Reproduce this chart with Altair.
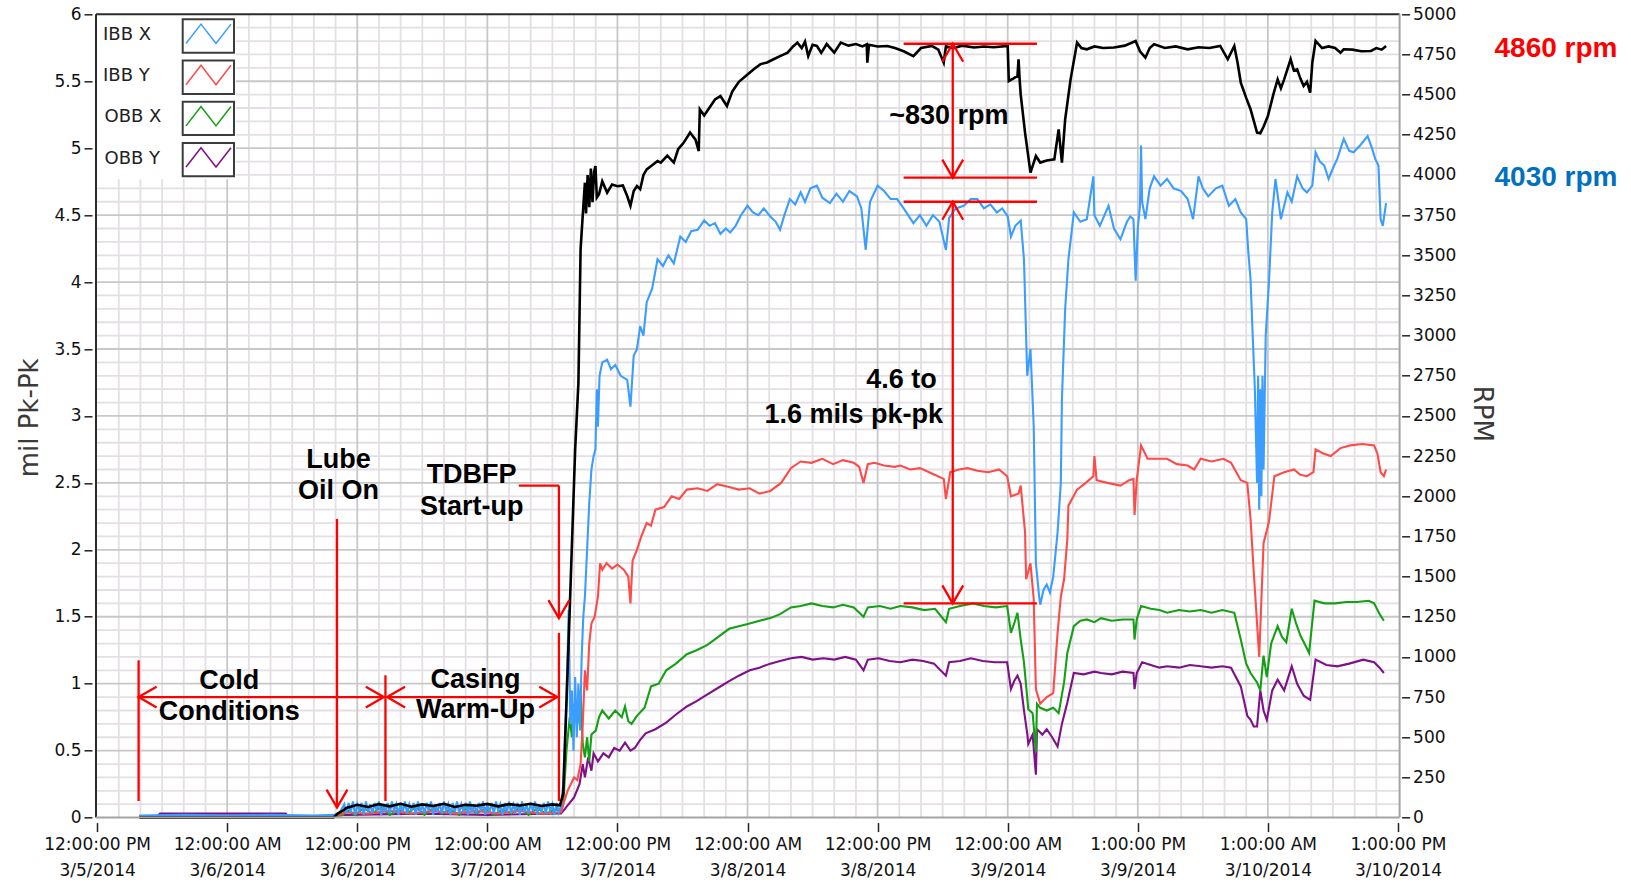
import json
import altair as alt
import pandas as pd

# ---------------- layout ----------------
W, H = 1303.6, 803.3
PAD = {"left": 96, "top": 14.3, "right": 231.4, "bottom": 66.4}
X_DOMAIN = [-0.1, 120.15]          # hours since 12:00 PM 3/5/2014

# ---------------- axes ----------------
X_TICKS = [0, 12, 24, 36, 48, 60, 72, 84, 96, 108, 120]
X_LABELS = [["12:00:00 PM", "3/5/2014"], ["12:00:00 AM", "3/6/2014"], ["12:00:00 PM", "3/6/2014"],
            ["12:00:00 AM", "3/7/2014"], ["12:00:00 PM", "3/7/2014"], ["12:00:00 AM", "3/8/2014"],
            ["12:00:00 PM", "3/8/2014"], ["12:00:00 AM", "3/9/2014"], ["1:00:00 PM", "3/9/2014"],
            ["1:00:00 AM", "3/10/2014"], ["1:00:00 PM", "3/10/2014"]]
MIL_TICKS = [0, 0.5, 1, 1.5, 2, 2.5, 3, 3.5, 4, 4.5, 5, 5.5, 6]
RPM_TICKS = [0, 250, 500, 750, 1000, 1250, 1500, 1750, 2000, 2250, 2500, 2750, 3000,
             3250, 3500, 3750, 4000, 4250, 4500, 4750, 5000]

SERIES = ["IBB X", "IBB Y", "OBB X", "OBB Y"]
COLORS = ["#3a9dff", "#ff4a4a", "#14a014", "#7e1088"]

# ---------------- data (hour, mil) ----------------
IBB_X = [(3.9, 0.015), (8.0, 0.02), (12.0, 0.015), (16.0, 0.02), (20.0, 0.015), (21.9, 0.02), (22.4, 0.04),
         (22.8, .10), (23.0, .03), (23.2, .11), (23.4, .04), (23.6, .12), (23.8, .02), (24.0, .10), (24.2, .05),
         (24.4, .11), (24.6, .02), (24.8, .12), (25.0, .04), (25.2, .10), (25.4, .03), (25.6, .11), (25.8, .05),
         (26.0, .12), (26.2, .02), (26.4, .10), (26.6, .04), (26.8, .11), (27.0, .03), (27.2, .12), (27.4, .05),
         (27.6, .10), (27.8, .02), (28.0, .11), (28.2, .04), (28.4, .12), (28.6, .03), (28.8, .10), (29.0, .05),
         (29.2, .11), (29.4, .02), (29.6, .12), (29.8, .04), (30.0, .10), (30.2, .03), (30.4, .11), (30.6, .05),
         (30.8, .12), (31.0, .02), (31.2, .10), (31.4, .04), (31.6, .11), (31.8, .03), (32.0, .12), (32.2, .05),
         (32.4, .10), (32.6, .02), (32.8, .11), (33.0, .04), (33.2, .12), (33.4, .03), (33.6, .10), (33.8, .05),
         (34.0, .11), (34.2, .02), (34.4, .12), (34.6, .04), (34.8, .10), (35.0, .03), (35.2, .11), (35.4, .05),
         (35.6, .12), (35.8, .02), (36.0, .10), (36.2, .04), (36.4, .11), (36.6, .03), (36.8, .12), (37.0, .05),
         (37.2, .10), (37.4, .02), (37.6, .11), (37.8, .04), (38.0, .12), (38.2, .03), (38.4, .10), (38.6, .05),
         (38.8, .11), (39.0, .02), (39.2, .12), (39.4, .04), (39.6, .10), (39.8, .03), (40.0, .11), (40.2, .05),
         (40.4, .12), (40.6, .02), (40.8, .10), (41.0, .04), (41.2, .11), (41.4, .03), (41.6, .12), (41.8, .05),
         (42.0, .10), (42.2, .02), (42.4, .11), (42.6, .04), (42.8, .09),
         (43.0, 0.25), (43.3, 0.9), (43.5, 1.55), (43.65, 0.7), (43.8, 0.95), (43.95, 0.5), (44.1, 1.05),
         (44.25, 0.6), (44.4, 1.0), (44.55, 0.65), (44.7, 1.2), (44.85, 1.5), (45.0, 1.65), (45.2, 2.0),
         (45.4, 2.35), (45.6, 2.6), (45.8, 2.7), (45.97, 2.75), (46.1, 3.2), (46.2, 2.92), (46.35, 3.3),
         (46.6, 3.4), (47.05, 3.42), (47.4, 3.35), (47.8, 3.38), (48.3, 3.3), (48.9, 3.27), (49.2, 3.07),
         (49.5, 3.45), (49.8, 3.5), (50.1, 3.67), (50.4, 3.6), (50.7, 3.85), (51.2, 3.95), (51.7, 4.17),
         (52.2, 4.12), (52.7, 4.2), (53.2, 4.14), (53.8, 4.34), (54.3, 4.3), (54.8, 4.38), (55.4, 4.39),
         (56.0, 4.46), (56.5, 4.42), (57.0, 4.44), (57.5, 4.36), (58.0, 4.4), (58.4, 4.37), (58.9, 4.42),
         (59.4, 4.5), (60.0, 4.57), (60.5, 4.52), (61.0, 4.5), (61.5, 4.55), (62.1, 4.49), (62.6, 4.45),
         (63.0, 4.39), (63.4, 4.5), (63.9, 4.62), (64.4, 4.58), (64.9, 4.67), (65.3, 4.6), (65.8, 4.7),
         (66.4, 4.72), (66.9, 4.63), (67.6, 4.59), (68.2, 4.66), (68.8, 4.6), (69.4, 4.68), (70.1, 4.64),
         (70.5, 4.55), (70.9, 4.24), (71.3, 4.6), (72.0, 4.72), (72.6, 4.68), (73.2, 4.62), (73.8, 4.62),
         (74.4, 4.55), (75.3, 4.44), (75.9, 4.5), (76.5, 4.42), (77.1, 4.5), (77.7, 4.45), (78.3, 4.24),
         (78.6, 4.48), (79.2, 4.55), (79.95, 4.57), (80.6, 4.62), (81.2, 4.62), (81.8, 4.55), (82.4, 4.58),
         (83.0, 4.52), (83.5, 4.55), (84.0, 4.49), (84.3, 4.34), (84.7, 4.42), (85.2, 4.46), (85.5, 4.17),
         (85.8, 3.3), (86.1, 3.5), (86.4, 2.92), (86.6, 1.9), (86.9, 1.65), (87.0, 1.59), (87.3, 1.7),
         (87.6, 1.74), (87.9, 1.68), (88.2, 1.8), (88.6, 2.13), (88.9, 2.5), (89.0, 3.12), (89.3, 3.8),
         (89.6, 4.17), (89.96, 4.42), (90.1, 4.52), (90.7, 4.45), (91.3, 4.47), (91.9, 4.79), (92.0, 4.5),
         (92.5, 4.42), (93.3, 4.57), (93.8, 4.4), (94.4, 4.32), (95.0, 4.45), (95.3, 4.49), (95.6, 4.47),
         (95.8, 4.01), (96.0, 4.4), (96.2, 4.57), (96.3, 5.02), (96.4, 4.6), (96.7, 4.47), (97.1, 4.7),
         (97.5, 4.79), (98.1, 4.72), (98.7, 4.77), (99.3, 4.7), (100.0, 4.68), (100.6, 4.62), (101.1, 4.47),
         (101.6, 4.79), (102.0, 4.7), (102.5, 4.64), (103.2, 4.7), (103.8, 4.72), (104.4, 4.57), (105.0, 4.62),
         (105.5, 4.52), (106.0, 4.47), (106.2, 4.22), (106.4, 4.02), (106.6, 3.6), (106.8, 3.2), (107.0, 2.5),
         (107.1, 3.3), (107.2, 2.3), (107.3, 3.2), (107.4, 2.4), (107.5, 3.3), (107.6, 2.6), (107.8, 3.6),
         (108.1, 4.0), (108.4, 4.52), (108.7, 4.77), (109.2, 4.47), (109.8, 4.67), (110.2, 4.6), (110.7, 4.79),
         (111.2, 4.7), (111.6, 4.67), (112.1, 4.72), (112.4, 4.97), (112.8, 4.9), (113.2, 4.87), (113.6, 4.77),
         (114.0, 4.85), (114.4, 4.92), (115.0, 5.07), (115.5, 4.98), (115.9, 4.97), (116.5, 5.02), (117.2, 5.09),
         (117.6, 5.0), (117.9, 4.92), (118.2, 4.87), (118.4, 4.47), (118.6, 4.42), (118.9, 4.59)]

IBB_Y = [(3.9, 0.01), (21.8, 0.01), (22.7, 0.03), (23.0, 0.04), (25.0, 0.03), (27.0, 0.05), (29.0, 0.03),
         (31.0, 0.05), (33.0, 0.03), (35.0, 0.05), (37.0, 0.03), (39.0, 0.05), (41.0, 0.03), (42.8, 0.04),
         (43.0, 0.1), (43.4, 0.2), (43.7, 0.25), (44.0, 0.3), (44.3, 0.28), (44.6, 0.4), (44.8, 0.7), (45.0, 1.1),
         (45.2, 0.95), (45.4, 1.3), (45.6, 1.45), (45.9, 1.5), (46.2, 1.65), (46.4, 1.9), (46.6, 1.85), (47.0, 1.9),
         (47.5, 1.86), (48.0, 1.89), (48.6, 1.85), (49.0, 1.8), (49.2, 1.6), (49.4, 1.92), (49.8, 2.0), (50.2, 2.1),
         (50.7, 2.2), (51.1, 2.18), (51.5, 2.3), (52.3, 2.32), (53.0, 2.4), (53.7, 2.38), (54.4, 2.45), (55.4, 2.46),
         (56.3, 2.44), (57.2, 2.49), (58.3, 2.47), (59.2, 2.45), (60.2, 2.46), (61.1, 2.42), (62.1, 2.44),
         (63.1, 2.5), (64.0, 2.61), (64.9, 2.66), (65.9, 2.65), (66.9, 2.68), (67.9, 2.64), (68.8, 2.67),
         (69.8, 2.65), (70.3, 2.62), (70.7, 2.5), (71.1, 2.64), (71.7, 2.65), (72.6, 2.63), (73.6, 2.62),
         (74.1, 2.63), (75.0, 2.6), (75.9, 2.61), (77.0, 2.57), (78.1, 2.53), (78.3, 2.38), (78.7, 2.58),
         (79.5, 2.6), (80.3, 2.61), (81.2, 2.59), (82.2, 2.58), (83.2, 2.6), (83.95, 2.55), (84.3, 2.4),
         (85.0, 2.42), (85.2, 2.48), (85.6, 2.13), (85.7, 1.78), (86.1, 1.9), (86.4, 1.63), (86.6, 0.96),
         (87.0, 0.85), (87.6, 0.9), (88.2, 0.93), (88.6, 1.38), (88.9, 1.65), (89.2, 1.78), (89.5, 2.08),
         (89.6, 2.33), (90.4, 2.45), (91.2, 2.5), (91.9, 2.55), (92.0, 2.7), (92.2, 2.52), (93.2, 2.5),
         (94.4, 2.48), (95.2, 2.52), (95.6, 2.53), (95.7, 2.26), (95.9, 2.52), (96.3, 2.78), (96.9, 2.68),
         (97.8, 2.68), (98.7, 2.68), (99.6, 2.64), (100.6, 2.63), (101.2, 2.6), (101.8, 2.68), (102.8, 2.66),
         (103.9, 2.68), (104.6, 2.65), (105.5, 2.52), (106.1, 2.5), (106.4, 2.23), (106.7, 1.83), (107.0, 1.45),
         (107.2, 1.2), (107.6, 2.05), (108.1, 2.21), (108.6, 2.55), (109.5, 2.58), (110.4, 2.6), (111.0, 2.56),
         (111.6, 2.55), (112.2, 2.58), (112.4, 2.75), (113.1, 2.72), (113.8, 2.7), (114.7, 2.76), (115.6, 2.78),
         (116.7, 2.79), (117.8, 2.78), (118.1, 2.72), (118.4, 2.58), (118.7, 2.55), (118.9, 2.6)]

OBB_X = [(3.9, 0.01), (21.8, 0.01), (22.7, 0.02), (23.0, 0.06), (23.8, 0.02), (24.6, 0.07), (25.4, 0.03),
         (26.2, 0.08), (27.0, 0.02), (27.8, 0.06), (28.6, 0.03), (29.4, 0.08), (30.2, 0.02), (31.0, 0.07),
         (31.8, 0.03), (32.6, 0.06), (33.4, 0.02), (34.2, 0.08), (35.0, 0.03), (35.8, 0.07), (36.6, 0.02),
         (37.4, 0.06), (38.2, 0.03), (39.0, 0.08), (39.8, 0.02), (40.6, 0.07), (41.4, 0.03), (42.2, 0.06),
         (42.8, 0.05), (43.0, 0.1), (43.3, 0.5), (43.6, 0.75), (43.8, 0.6), (44.0, 0.85), (44.3, 0.7),
         (44.6, 0.95), (44.8, 0.55), (45.0, 0.45), (45.2, 0.6), (45.4, 0.42), (45.6, 0.62), (46.0, 0.65),
         (46.3, 0.75), (46.6, 0.8), (47.2, 0.74), (47.8, 0.8), (48.4, 0.75), (48.7, 0.83), (49.0, 0.72),
         (49.3, 0.7), (49.8, 0.76), (50.5, 0.82), (51.1, 0.98), (51.8, 1.0), (52.5, 1.1), (53.4, 1.15),
         (54.4, 1.22), (55.3, 1.25), (56.3, 1.29), (57.3, 1.35), (58.3, 1.41), (59.2, 1.43), (60.2, 1.45),
         (61.1, 1.47), (62.1, 1.49), (63.0, 1.52), (64.0, 1.57), (64.9, 1.58), (65.9, 1.6), (66.9, 1.58),
         (67.9, 1.57), (68.8, 1.59), (69.8, 1.57), (70.7, 1.5), (71.1, 1.57), (72.2, 1.58), (73.2, 1.56),
         (74.1, 1.58), (75.2, 1.57), (76.3, 1.55), (77.3, 1.56), (78.3, 1.46), (78.6, 1.56), (79.6, 1.58),
         (80.8, 1.6), (81.8, 1.58), (82.9, 1.57), (83.95, 1.58), (84.3, 1.38), (84.6, 1.45), (84.9, 1.53),
         (85.2, 1.33), (85.5, 1.16), (85.9, 0.81), (86.3, 0.78), (86.6, 0.49), (86.7, 0.85), (87.0, 0.82),
         (87.6, 0.8), (88.2, 0.82), (88.7, 0.78), (89.2, 1.01), (89.5, 1.23), (90.1, 1.43), (90.7, 1.47),
         (91.3, 1.48), (92.0, 1.46), (92.6, 1.49), (93.6, 1.47), (94.6, 1.48), (95.6, 1.48), (95.7, 1.33),
         (95.9, 1.48), (96.3, 1.58), (97.2, 1.56), (98.0, 1.55), (98.7, 1.53), (99.8, 1.55), (100.8, 1.54),
         (101.8, 1.55), (102.8, 1.53), (103.8, 1.55), (104.9, 1.53), (105.5, 1.33), (106.0, 1.15), (106.4, 1.08),
         (107.0, 1.01), (107.3, 0.95), (107.6, 1.21), (107.9, 1.05), (108.3, 1.3), (108.9, 1.43), (109.3, 1.35),
         (109.7, 1.31), (110.2, 1.56), (110.6, 1.45), (111.0, 1.36), (111.5, 1.28), (111.8, 1.23), (112.3, 1.62),
         (113.2, 1.6), (114.2, 1.6), (115.2, 1.61), (116.2, 1.61), (117.3, 1.62), (117.8, 1.6), (118.3, 1.52),
         (118.7, 1.47)]

OBB_Y = [(3.9, 0.01), (5.6, 0.01), (5.8, 0.03), (17.4, 0.03), (17.6, 0.01), (21.8, 0.01), (22.7, 0.02),
         (23.0, 0.02), (30.0, 0.03), (36.0, 0.02), (42.8, 0.03), (43.0, 0.05), (43.5, 0.1), (44.0, 0.15),
         (44.5, 0.25), (44.8, 0.4), (45.0, 0.3), (45.3, 0.45), (45.6, 0.35), (45.8, 0.48), (46.2, 0.42),
         (46.7, 0.48), (47.2, 0.45), (47.7, 0.52), (48.2, 0.5), (48.7, 0.56), (49.2, 0.5), (49.6, 0.52),
         (50.1, 0.58), (50.6, 0.63), (51.5, 0.66), (52.5, 0.71), (53.4, 0.77), (54.4, 0.83), (55.3, 0.87),
         (56.3, 0.92), (57.3, 0.97), (58.3, 1.02), (59.2, 1.06), (60.2, 1.1), (61.1, 1.12), (62.1, 1.15),
         (63.0, 1.17), (64.0, 1.19), (65.0, 1.2), (66.0, 1.18), (67.0, 1.19), (68.0, 1.18), (69.0, 1.2),
         (70.0, 1.18), (70.7, 1.1), (71.1, 1.18), (72.1, 1.19), (73.1, 1.17), (74.1, 1.16), (75.2, 1.18),
         (76.2, 1.17), (77.2, 1.15), (78.3, 1.06), (78.6, 1.16), (79.6, 1.17), (80.6, 1.19), (81.7, 1.17),
         (82.8, 1.16), (83.95, 1.16), (84.3, 0.96), (84.6, 1.02), (84.9, 1.06), (85.2, 1.0), (85.5, 0.8),
         (85.8, 0.63), (85.9, 0.55), (86.3, 0.62), (86.6, 0.32), (86.7, 0.66), (87.2, 0.62), (87.6, 0.66),
         (88.1, 0.6), (88.6, 0.53), (89.0, 0.7), (89.5, 0.86), (90.1, 1.08), (91.0, 1.07), (92.0, 1.09),
         (92.6, 1.08), (93.6, 1.07), (94.6, 1.09), (95.6, 1.08), (95.7, 0.96), (95.9, 1.08), (96.4, 1.16),
         (97.2, 1.14), (98.0, 1.12), (98.7, 1.13), (99.8, 1.12), (100.8, 1.14), (101.8, 1.13), (102.8, 1.12),
         (103.8, 1.13), (104.6, 1.12), (105.5, 0.98), (106.1, 0.76), (106.4, 0.73), (106.7, 0.68), (107.0, 0.68),
         (107.3, 0.95), (107.6, 0.8), (107.9, 0.73), (108.4, 0.95), (108.9, 1.03), (109.5, 0.95), (110.2, 1.13),
         (110.7, 1.0), (111.3, 0.91), (111.9, 0.88), (112.4, 1.18), (113.4, 1.14), (114.4, 1.13), (115.5, 1.15),
         (116.8, 1.18), (117.8, 1.16), (118.3, 1.12), (118.7, 1.08)]

# (hour, rpm)
RPM = [(3.9, 0), (21.8, 0), (22.2, 25), (22.7, 45), (23.0, 60), (24, 80), (25, 66), (26, 84), (27, 70), (28, 86),
       (29, 68), (30, 82), (31, 72), (32, 86), (33, 66), (34, 80), (35, 74), (36, 85), (37, 70), (38, 84),
       (39, 75), (40, 86), (41, 72), (42, 82), (42.7, 76), (43.0, 150), (43.5, 1100), (44.1, 2292),
       (44.4, 2707), (44.6, 3537), (44.8, 3750), (45.0, 3952), (45.1, 3760), (45.25, 4000), (45.4, 3800),
       (45.55, 4040), (45.7, 3830), (45.85, 4020), (45.97, 4056), (46.1, 3860), (46.3, 3880), (46.6, 3960),
       (47.05, 3890), (47.5, 3940), (48.0, 3930), (48.5, 3935), (48.9, 3869), (49.2, 3808), (49.5, 3900),
       (49.8, 3931), (50.1, 3911), (50.4, 4000), (50.7, 4035), (51.2, 4060), (51.7, 4087), (52.0, 4077),
       (52.6, 4120), (53.2, 4077), (53.6, 4160), (54.1, 4200), (54.7, 4264), (55.2, 4220), (55.5, 4149),
       (55.6, 4409), (56.0, 4370), (56.5, 4420), (57.0, 4470), (57.5, 4491), (58.1, 4429), (58.6, 4520),
       (59.2, 4580), (60.0, 4626), (60.6, 4660), (61.2, 4690), (61.8, 4700), (62.4, 4720), (63.0, 4740),
       (63.7, 4761), (64.2, 4800), (64.6, 4824), (65.0, 4790), (65.3, 4830), (65.6, 4740), (66.0, 4810),
       (66.4, 4803), (66.8, 4760), (67.3, 4815), (68.0, 4761), (68.6, 4824), (69.3, 4805), (70.0, 4815),
       (70.6, 4800), (71.0, 4813), (71.05, 4699), (71.2, 4810), (72.0, 4800), (72.9, 4803), (73.6, 4790),
       (74.4, 4770), (75.3, 4740), (76.0, 4790), (77.0, 4803), (77.6, 4780), (78.1, 4699), (78.3, 4800),
       (79.0, 4790), (79.8, 4805), (80.9, 4793), (81.8, 4800), (82.7, 4795), (84.0, 4803), (84.1, 4585),
       (84.5, 4600), (84.9, 4616), (85.0, 4720), (85.1, 4595), (85.2, 4500), (85.6, 4264), (86.1, 4015),
       (86.6, 4118), (87.0, 4077), (87.6, 4090), (88.3, 4097), (88.7, 4284), (89.0, 4077), (89.3, 4346),
       (89.8, 4595), (90.4, 4824), (90.8, 4790), (91.3, 4782), (92.0, 4800), (92.8, 4790), (93.8, 4793),
       (94.8, 4805), (95.8, 4834), (96.2, 4770), (96.7, 4730), (97.1, 4790), (97.5, 4813), (98.5, 4790),
       (99.5, 4800), (100.6, 4782), (101.6, 4795), (102.6, 4790), (103.6, 4803), (104.3, 4720), (104.9, 4803),
       (105.2, 4700), (105.5, 4575), (106.0, 4480), (106.4, 4409), (107.0, 4264), (107.3, 4260), (107.6, 4300),
       (108.0, 4367), (108.5, 4500), (108.9, 4595), (109.2, 4540), (109.5, 4595), (110.1, 4720), (110.4, 4650),
       (110.7, 4657), (111.0, 4600), (111.3, 4554), (111.6, 4580), (111.9, 4513), (112.1, 4700), (112.4, 4834),
       (113.0, 4790), (113.6, 4800), (114.2, 4790), (114.7, 4761), (115.0, 4782), (115.8, 4780), (116.6, 4770),
       (117.5, 4772), (118.0, 4790), (118.5, 4780), (118.9, 4803)]

# ---------------- annotations (hour, mil) ----------------
ANNOT_SEGMENTS = [(3.83, 3.83, 1.175, 0.124), (3.83, 26.45, 0.90, 0.90), (26.6, 26.6, 1.063, 0.124),
                  (26.75, 42.45, 0.90, 0.90), (42.6, 42.6, 1.38, 0.124), (38.9, 42.6, 2.48, 2.48),
                  (42.6, 42.6, 2.48, 1.49), (22.13, 22.13, 2.23, 0.075),
                  (74.4, 86.7, 5.78, 5.78), (74.4, 86.7, 4.78, 4.78), (74.4, 86.7, 4.60, 4.60),
                  (74.4, 86.7, 1.60, 1.60), (78.93, 78.93, 5.78, 4.78), (78.93, 78.93, 4.60, 1.60)]
ARROW_HEADS = [(3.83, 0.90, 270), (26.45, 0.90, 90), (26.75, 0.90, 270), (42.45, 0.90, 90),
               (42.6, 1.49, 180), (22.13, 0.075, 180), (78.93, 5.78, 0), (78.93, 4.78, 180),
               (78.93, 4.60, 0), (78.93, 1.60, 180)]
ANNOT_TEXT = [(22.26, 2.67, "Lube"), (22.26, 2.44, "Oil On"), (34.55, 2.56, "TDBFP"), (34.55, 2.32, "Start-up"),
              (12.2, 1.02, "Cold"), (12.2, 0.79, "Conditions"), (34.9, 1.03, "Casing"), (34.9, 0.80, "Warm-Up"),
              (78.57, 5.24, "~830 rpm"), (74.2, 3.27, "4.6 to"), (69.8, 3.01, "1.6 mils pk-pk")]

# ---------------- helpers ----------------
LABEL_FONT = "DejaVu Sans"
XSCALE = alt.Scale(domain=X_DOMAIN, nice=False, zero=False)
YSCALE = alt.Scale(domain=[0, 6], nice=False, zero=False)
RSCALE = alt.Scale(domain=[0, 5000], nice=False, zero=False)

XAX = alt.Axis(values=X_TICKS, labelExpr=json.dumps(X_LABELS) + "[round(datum.value/12)]",
               title="", domain=False, grid=False, offset=5, tickSize=9, tickWidth=1.5, tickColor="#222",
               labelFont=LABEL_FONT, labelFontSize=17, labelColor="#111", labelLineHeight=26,
               labelPadding=5, labelOverlap=False, labelFlush=False)
YAX = alt.Axis(values=MIL_TICKS, format="~g", orient="left", domain=False, grid=False, offset=4,
               tickSize=8, tickWidth=1.5, tickColor="#222", labelFont=LABEL_FONT, labelFontSize=17,
               labelColor="#111", labelPadding=3, labelOverlap=False, labelFlush=False,
               title="mil Pk-Pk", titleFont=LABEL_FONT, titleFontSize=26, titleFontWeight="normal",
               titleColor="#3a3a3a", titleX=-63, titleY=403, titleAngle=270, titleBaseline="middle")
RAX = alt.Axis(values=RPM_TICKS, format="d", orient="right", domain=False, grid=False, offset=2,
               tickSize=8, tickWidth=1.5, tickColor="#222", labelFont=LABEL_FONT, labelFontSize=17,
               labelColor="#111", labelPadding=3, labelOverlap=False, labelFlush=False,
               title="RPM", titleFont=LABEL_FONT, titleFontSize=26, titleFontWeight="normal",
               titleColor="#3a3a3a", titleX=80, titleY=399, titleAngle=90, titleBaseline="middle")


def xenc(f):
    return alt.X(f + ":Q", scale=XSCALE, axis=XAX)


def yenc(f):
    return alt.Y(f + ":Q", scale=YSCALE, axis=YAX)


def ynoax(f):
    return alt.Y(f + ":Q", scale=YSCALE, axis=None)


def pts_df(points):
    return pd.DataFrame({"h": [p[0] for p in points], "v": [p[1] for p in points],
                         "i": list(range(len(points)))})


# ---------------- grid ----------------
v_minor = pd.DataFrame({"h": [h for h in range(2, 120, 2) if h % 12]})
v_major = pd.DataFrame({"h": list(range(12, 120, 12))})
h_minor = pd.DataFrame({"v": [round(i * 0.1, 1) for i in range(1, 60) if i % 5]})
h_major = pd.DataFrame({"v": [round(i * 0.5, 1) for i in range(1, 12)]})

MINOR_C, MAJOR_C = "#e4dfe4", "#c8c8c8"
grid = [
    alt.Chart(v_minor).mark_rule(color=MINOR_C, strokeWidth=1.8).encode(
        x=xenc("h"), y=alt.value(0), y2=alt.value(H)),
    alt.Chart(h_minor).mark_rule(color=MINOR_C, strokeWidth=1.8).encode(
        y=yenc("v"), x=alt.value(0), x2=alt.value(W)),
    alt.Chart(v_major).mark_rule(color=MAJOR_C, strokeWidth=1.8).encode(
        x=xenc("h"), y=alt.value(0), y2=alt.value(H)),
    alt.Chart(h_major).mark_rule(color=MAJOR_C, strokeWidth=1.8).encode(
        y=yenc("v"), x=alt.value(0), x2=alt.value(W)),
]

legend_bg = alt.Chart(pd.DataFrame({"a": [0]})).mark_rect(fill="white").encode(
    x=alt.value(0), x2=alt.value(140), y=alt.value(0), y2=alt.value(165))

series_points = {"IBB X": IBB_X, "IBB Y": IBB_Y, "OBB X": OBB_X, "OBB Y": OBB_Y}
line_layers = []
for name in ["OBB Y", "OBB X", "IBB Y", "IBB X"]:
    col = COLORS[SERIES.index(name)]
    line_layers.append(
        alt.Chart(pts_df(series_points[name])).mark_line(color=col, strokeWidth=2.1).encode(
            x=xenc("h"), y=yenc("v"), order="i:Q"))

mil_group = alt.layer(*grid, legend_bg, *line_layers)

rpm_layer = alt.Chart(pts_df(RPM)).mark_line(color="#000000", strokeWidth=2.6).encode(
    x=xenc("h"), y=alt.Y("v:Q", scale=RSCALE, axis=RAX), order="i:Q")

# ---------------- annotations ----------------
RED = "#ff0000"
seg_df = pd.DataFrame(ANNOT_SEGMENTS, columns=["h", "h2", "m", "m2"])
head_df = pd.DataFrame(ARROW_HEADS, columns=["h", "m", "ang"])
txt_df = pd.DataFrame(ANNOT_TEXT, columns=["h", "m", "t"])
CHEVRON = "M-0.58,1L0,0L0.58,1"

annot_group = alt.layer(
    alt.Chart(seg_df).mark_rule(color=RED, strokeWidth=2.3).encode(
        x=xenc("h"), x2="h2:Q", y=ynoax("m"), y2="m2:Q"),
    alt.Chart(head_df).mark_point(shape=CHEVRON, size=1296, filled=False, color=RED,
                                  strokeWidth=2.3, opacity=1).encode(
        x=xenc("h"), y=ynoax("m"), angle=alt.Angle("ang:Q", scale=None)),
    alt.Chart(txt_df).mark_text(font="Liberation Sans", fontWeight="bold", fontSize=27,
                                color="#000000", baseline="middle", align="center").encode(
        x=xenc("h"), y=ynoax("m"), text="t:N"),
)

# ---------------- legend (drawn inside the plot, top-left) ----------------
ZIGZAG = "M-1,0.43L-0.333,-0.43L0.333,0.43L1,-0.43"
legend_layers = []
one = pd.DataFrame({"a": [0]})
for k, name in enumerate(SERIES):
    dy = 41.2 * k
    legend_layers.append(alt.Chart(one).mark_text(
        text=name, font=LABEL_FONT, fontSize=18, color="#222", align="left", baseline="middle").encode(
        x=alt.value(7 if k < 2 else 8.5), y=alt.value(20.7 + dy)))
    legend_layers.append(alt.Chart(one).mark_rect(fill="white", stroke="#3c3c3c", strokeWidth=2).encode(
        x=alt.value(86.7), x2=alt.value(138), y=alt.value(5 + dy), y2=alt.value(38.4 + dy)))
    legend_layers.append(alt.Chart(one).mark_point(
        shape=ZIGZAG, size=2025, filled=False, color=COLORS[k], strokeWidth=1.5, opacity=1).encode(
        x=alt.value(112.5), y=alt.value(19.5 + dy)))

# ---------------- plot frame ----------------
frame = [
    alt.Chart(one).mark_rule(color="#2b2b2b", strokeWidth=2).encode(
        x=alt.value(0), x2=alt.value(W), y=alt.value(0)),
    alt.Chart(one).mark_rule(color="#2b2b2b", strokeWidth=2).encode(
        x=alt.value(0), y=alt.value(0), y2=alt.value(H)),
    alt.Chart(one).mark_rule(color="#a4a4a4", strokeWidth=2).encode(
        x=alt.value(W), y=alt.value(0), y2=alt.value(H)),
    alt.Chart(one).mark_rule(color="#a4a4a4", strokeWidth=2).encode(
        x=alt.value(0), x2=alt.value(W), y=alt.value(H)),
]

side_text = [
    alt.Chart(one).mark_text(text="4860 rpm", font="Liberation Sans", fontWeight="bold", fontSize=28,
                             color="#ff0000", align="center", baseline="middle").encode(
        x=alt.value(1460), y=alt.value(35)),
    alt.Chart(one).mark_text(text="4030 rpm", font="Liberation Sans", fontWeight="bold", fontSize=28,
                             color="#0070c0", align="center", baseline="middle").encode(
        x=alt.value(1460), y=alt.value(163.5)),
]

chart = alt.layer(
    mil_group, rpm_layer, annot_group, *legend_layers, *frame, *side_text
).resolve_scale(y="independent").properties(
    width=W, height=H, padding=PAD, autosize=alt.AutoSizeParams(type="none"), background="white"
).configure_view(strokeWidth=0)

chart.save("out.html", embed_options={"renderer": "svg", "actions": False})
